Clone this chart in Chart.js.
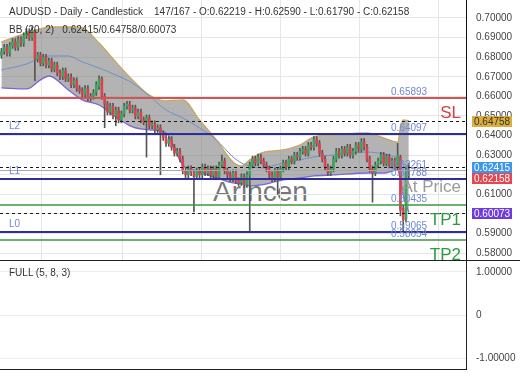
<!DOCTYPE html>
<html><head><meta charset="utf-8">
<script src="https://cdn.jsdelivr.net/npm/chart.js@4/dist/chart.umd.min.js"></script>
<style>
html,body{margin:0;padding:0;background:#fff;width:520px;height:390px;overflow:hidden;font-family:'Liberation Sans',Arial,sans-serif}
#wrap{position:relative;width:520px;height:390px}
canvas{position:absolute;left:0}
#main{top:0;z-index:1}
#sub{top:260px;z-index:1}
.txt{position:absolute;white-space:pre;color:#333;font-size:10px;line-height:12px;z-index:2}
#wm{position:absolute;left:213px;top:176px;font-size:28px;line-height:32px;color:rgba(95,95,95,0.85);z-index:0}
</style></head><body>
<div id="wrap">
<div id="wm">Arincen</div>
<canvas id="main" width="520" height="260"></canvas>
<canvas id="sub" width="520" height="130"></canvas>
<div class="txt" style="left:9px;top:6px">AUDUSD - Daily - Candlestick    147/167 - O:0.62219 - H:0.62590 - L:0.61790 - C:0.62158</div>
<div class="txt" style="left:9px;top:24px">BB (20, 2)   0.62415/0.64758/0.60073</div>
<div class="txt" style="left:9px;top:267px">FULL (5, 8, 3)</div>
</div>
<script>
// ---- data ----
const opens=[.6810,.6830,.6850,.6820,.6860,.6880,.6850,.6890,.6870,.6910,
.6930,.6900,.6930,.6790,.6810,.6770,.6800,.6760,.6780,.6740,
.6760,.6720,.6700,.6730,.6690,.6700,.6660,.6680,.6640,.6630,
.6610,.6640,.6590,.6600,.6620,.6650,.6690,.6600,.6560,.6520,
.6550,.6500,.6530,.6480,.6510,.6550,.6560,.6530,.6540,.6500,
.6520,.6480,.6470,.6490,.6450,.6460,.6430,.6440,.6410,.6390,
.6360,.6380,.6340,.6310,.6320,.6280,.6220,.6200,.6230,.6210,
.6190,.6220,.6200,.6240,.6210,.6230,.6200,.6230,.6190,.6250,
.6270,.6220,.6200,.6180,.6210,.6170,.6160,.6190,.6150,.6200,
.6250,.6280,.6260,.6290,.6270,.6250,.6230,.6200,.6180,.6220,
.6190,.6230,.6260,.6240,.6280,.6270,.6300,.6290,.6320,.6330,
.6310,.6350,.6340,.6380,.6360,.6310,.6280,.6240,.6210,.6230,
.6280,.6320,.6300,.6330,.6310,.6340,.6300,.6320,.6350,.6330,
.6370,.6340,.6280,.6230,.6210,.6250,.6270,.6300,.6260,.6290,
.6250,.6270,.6240,.6290,.6030,.5975,.62219];
const highs=[.6845,.6865,.6865,.6875,.6895,.6895,.6905,.6905,.6925,.6945,
.6945,.6955,.6940,.6825,.6825,.6815,.6815,.6795,.6795,.6775,
.6775,.6735,.6745,.6745,.6715,.6715,.6695,.6695,.6655,.6645,
.6655,.6655,.6615,.6635,.6675,.6705,.6700,.6615,.6575,.6565,
.6565,.6545,.6545,.6525,.6565,.6575,.6575,.6555,.6555,.6535,
.6535,.6495,.6505,.6505,.6475,.6475,.6455,.6455,.6425,.6405,
.6395,.6395,.6355,.6335,.6335,.6295,.6235,.6245,.6245,.6225,
.6235,.6235,.6255,.6255,.6245,.6245,.6245,.6245,.6265,.6300,
.6285,.6235,.6215,.6225,.6225,.6185,.6205,.6205,.6215,.6265,
.6295,.6295,.6305,.6305,.6285,.6265,.6245,.6215,.6235,.6235,
.6245,.6275,.6275,.6295,.6295,.6315,.6315,.6335,.6345,.6345,
.6365,.6365,.6395,.6395,.6375,.6325,.6295,.6255,.6245,.6295,
.6335,.6335,.6345,.6345,.6355,.6355,.6335,.6365,.6365,.6385,
.6385,.6355,.6295,.6245,.6265,.6285,.6315,.6315,.6305,.6305,
.6285,.6285,.6360,.6300,.6045,.6240,.62590];
const lows=[.6795,.6815,.6805,.6805,.6845,.6835,.6835,.6855,.6855,.6895,
.6885,.6885,.6680,.6775,.6755,.6755,.6745,.6745,.6725,.6725,
.6705,.6685,.6685,.6675,.6675,.6645,.6645,.6625,.6615,.6595,
.6595,.6575,.6575,.6585,.6605,.6635,.6585,.6440,.6505,.6505,
.6485,.6450,.6465,.6465,.6495,.6535,.6515,.6515,.6485,.6485,
.6465,.6455,.6290,.6435,.6435,.6415,.6415,.6200,.6375,.6345,
.6345,.6325,.6295,.6295,.6265,.6205,.6185,.6185,.6195,.6010,
.6175,.6185,.6185,.6195,.6195,.6185,.6185,.6175,.6175,.6235,
.6205,.6185,.6165,.6165,.6155,.6145,.6145,.6135,.6135,.5907,
.6235,.6245,.6245,.6255,.6235,.6215,.6185,.6165,.6165,.6100,
.6175,.6215,.6225,.6225,.6255,.6255,.6275,.6275,.6305,.6295,
.6295,.6325,.6325,.6345,.6295,.6265,.6225,.6195,.6195,.6215,
.6265,.6285,.6285,.6295,.6295,.6285,.6285,.6305,.6315,.6315,
.6325,.6265,.6215,.6060,.6195,.6235,.6255,.6245,.6245,.6235,
.6235,.6225,.6225,.5990,.5907,.5960,.61790];
const closes=[.6830,.6850,.6820,.6860,.6880,.6850,.6890,.6870,.6910,.6930,
.6900,.6935,.6790,.6810,.6770,.6800,.6760,.6780,.6740,.6760,
.6720,.6700,.6730,.6690,.6700,.6660,.6680,.6640,.6630,.6610,
.6640,.6590,.6600,.6620,.6660,.6690,.6600,.6560,.6520,.6550,
.6500,.6530,.6480,.6510,.6550,.6560,.6530,.6540,.6500,.6520,
.6480,.6470,.6490,.6450,.6460,.6430,.6440,.6410,.6390,.6360,
.6380,.6340,.6310,.6320,.6280,.6220,.6200,.6230,.6210,.6190,
.6220,.6200,.6240,.6210,.6230,.6200,.6230,.6190,.6250,.6270,
.6220,.6200,.6180,.6210,.6170,.6160,.6190,.6150,.6200,.6250,
.6280,.6260,.6290,.6270,.6250,.6230,.6200,.6180,.6220,.6190,
.6230,.6260,.6240,.6280,.6270,.6300,.6290,.6320,.6330,.6310,
.6350,.6340,.6380,.6360,.6310,.6280,.6240,.6210,.6230,.6280,
.6320,.6300,.6330,.6310,.6340,.6300,.6320,.6350,.6330,.6370,
.6340,.6280,.6230,.6210,.6250,.6270,.6300,.6260,.6290,.6250,
.6270,.6240,.6300,.6020,.5970,.6222,.62158];

const bbIdx=[0,9,14,17,24,29,35,41,47,53,59,65,71,77,83,86,89,93,101,107,112,119,131,137,142,143,144,146];
const bbUpper=[0.6878,0.6924,0.6944,0.6954,0.6954,0.6949,0.6872,0.6776,0.6684,0.6607,0.6577,0.6582,0.6480,0.6378,0.6265,0.6245,0.6276,0.6311,0.6327,0.6352,0.6393,0.6403,0.6413,0.6388,0.6367,0.6439,0.6480,0.64758];
const bbMid=[0.6735,0.6765,0.6796,0.6806,0.6806,0.6776,0.6745,0.6709,0.6668,0.6602,0.6531,0.6490,0.6439,0.6378,0.6291,0.6260,0.6245,0.6235,0.6260,0.6276,0.6291,0.6301,0.6316,0.6306,0.6286,0.6276,0.6260,0.62415];
const bbLower=[0.6643,0.6638,0.6684,0.6704,0.6633,0.6582,0.6556,0.6495,0.6444,0.6429,0.6413,0.6250,0.6214,0.6184,0.6158,0.6153,0.6143,0.6148,0.6174,0.6184,0.6194,0.6199,0.6209,0.6209,0.6224,0.6174,0.6097,0.60073];

const yTicks=[0.58,0.59,0.60,0.61,0.62,0.63,0.64,0.65,0.66,0.67,0.68,0.69,0.70];
const gridIdx=[28.9,57.6,85.9,114.2,142.5];
const slLevel=0.65893;
const lLevels=[0.64097,0.61788,0.59065];
const lNames=['L2','L1','L0'];
const tpLevels=[0.60435,0.58654];
const tpNames=['TP1','TP2'];
const bbLast=[0.64758,0.62415,0.60073];
const atPrice=0.62261;
const lastClose=0.62158;
const subTicks=[-1,0,1];

// ---- styles ----
const GREEN='#3aa55d', RED='#d9434f', WICK='#555';
const FONT="'Liberation Sans', Arial, sans-serif";
const LBL='#7088d0';

const bodyData=closes.map((c,i)=>({x:i,y:[opens[i],c]}));
const wickData=closes.map((c,i)=>({x:i,y:[lows[i],highs[i]]}));
const colors=closes.map((c,i)=>c>=opens[i]?GREEN:RED);
const band=a=>bbIdx.map((x,k)=>({x:x,y:a[k]}));

const noPad=s=>{s.width=54;s.paddingTop=0;s.paddingBottom=0;};

const levelPlugin={
  id:'levels',
  afterDatasetsDraw(chart){
    const ctx=chart.ctx, ca=chart.chartArea, y=chart.scales.y;
    const px=v=>y.getPixelForValue(v);
    function hline(v,color,w,dash){
      const p=Math.round(px(v))+(w%2===1?0.5:0);
      ctx.save();ctx.strokeStyle=color;ctx.lineWidth=w;ctx.setLineDash(dash||[]);
      ctx.beginPath();ctx.moveTo(ca.left,p);ctx.lineTo(ca.right,p);ctx.stroke();ctx.restore();
      return p;
    }
    function txt(s,x,yy,color,size,align){
      ctx.save();ctx.fillStyle=color;ctx.font=size+'px '+FONT;ctx.textAlign=align||'left';ctx.textBaseline='alphabetic';
      ctx.fillText(s,x,yy);ctx.restore();
    }
    const pa=hline(atPrice,'#a8a8a8',1);
    txt(atPrice.toFixed(5),391,pa-3,LBL,10);
    txt('At Price',461,pa+21,'#9a9a9a',17,'right');
    bbLast.forEach(v=>hline(v,'#1a1a1a',1,[3,3]));
    const ps=hline(slLevel,'#d05555',2);
    txt(slLevel.toFixed(5),391,ps-3,LBL,10);
    txt('SL',461,ps+20,'#d04040',17,'right');
    lLevels.forEach((v,k)=>{
      const p=hline(v,'#2d2d9c',2);
      txt(v.toFixed(5),391,p-3,LBL,10);
      txt(lNames[k],9,p-5,LBL,10);
    });
    tpLevels.forEach((v,k)=>{
      const p=hline(v,'#3c9a3c',1.5);
      txt(v.toFixed(5),391,p-3,LBL,10);
      txt(tpNames[k],461,p+20,'#2e9a3e',17,'right');
    });
  },
  afterDraw(chart){
    const ctx=chart.ctx, y=chart.scales.y;
    const badges=[
      {v:bbLast[0],bg:'#dcae3c',fg:'#333'},
      {v:bbLast[1],bg:'#3c96eb',fg:'#fff'},
      {v:lastClose,bg:'#e54650',fg:'#fff'},
      {v:bbLast[2],bg:'#6e3cdc',fg:'#fff'}
    ];
    let prev=-100;
    badges.forEach(b=>{
      let p=y.getPixelForValue(b.v)+1;
      if(p-prev<11) p=prev+11;
      prev=p;
      ctx.save();
      ctx.fillStyle=b.bg;ctx.fillRect(472,Math.round(p-5.5),40,11);
      ctx.fillStyle=b.fg;ctx.font='10px '+FONT;ctx.textBaseline='middle';ctx.textAlign='left';
      ctx.fillText(b.v.toFixed(5),474,p+0.5);
      ctx.restore();
    });
  }
};

new Chart(document.getElementById('main'),{
  type:'bar',
  data:{datasets:[
    {type:'bar',data:bodyData,backgroundColor:colors,borderWidth:0,barThickness:2,grouped:false,order:0},
    {type:'bar',data:wickData,backgroundColor:WICK,borderWidth:0,barThickness:1,grouped:false,order:1},
    {type:'line',data:band(bbUpper),borderColor:'#c9a75a',borderWidth:1.3,pointRadius:0,fill:false,cubicInterpolationMode:'monotone',order:3},
    {type:'line',data:band(bbMid),borderColor:'#6f8fc6',borderWidth:1,pointRadius:0,fill:false,cubicInterpolationMode:'monotone',order:2},
    {type:'line',data:band(bbLower),borderColor:'#7b66d9',borderWidth:1.3,pointRadius:0,fill:2,backgroundColor:'rgba(128,128,128,0.6)',cubicInterpolationMode:'monotone',order:4}
  ]},
  options:{
    responsive:false,animation:false,devicePixelRatio:1,
    layout:{padding:0,autoPadding:false},
    plugins:{legend:{display:false},tooltip:{enabled:false},title:{display:false}},
    scales:{
      x:{type:'linear',min:-0.5,max:166.5,offset:false,
        afterBuildTicks:s=>{s.ticks=gridIdx.map(v=>({value:v}));},
        afterFit:s=>{s.height=0;s.paddingLeft=0;s.paddingRight=0;},
        ticks:{display:false},grid:{color:'#e6e6e6',drawTicks:false},border:{display:false}},
      y:{type:'linear',position:'right',min:0.5765,max:0.70918,
        afterBuildTicks:s=>{s.ticks=yTicks.map(v=>({value:v}));},
        afterFit:noPad,
        ticks:{padding:10,color:'#444',font:{size:10,family:FONT},callback:v=>Number(v).toFixed(5)},
        grid:{color:'#e6e6e6',drawTicks:false},border:{display:true,color:'#111',width:1}}
    }
  },
  plugins:[levelPlugin]
});

const subBorder={
  id:'subBorder',
  afterDraw(chart){
    const ctx=chart.ctx, ca=chart.chartArea;
    ctx.save();ctx.strokeStyle='#222';ctx.lineWidth=1;
    ctx.beginPath();
    ctx.moveTo(0,0.5);ctx.lineTo(520,0.5);
    ctx.moveTo(466.5,0);ctx.lineTo(466.5,ca.bottom);
    ctx.moveTo(0,Math.round(ca.bottom)+0.5);ctx.lineTo(466.5,Math.round(ca.bottom)+0.5);
    ctx.stroke();ctx.restore();
  }
};

new Chart(document.getElementById('sub'),{
  type:'line',
  data:{datasets:[{data:[],borderColor:'#333',pointRadius:0}]},
  options:{
    responsive:false,animation:false,devicePixelRatio:1,
    layout:{padding:{top:1,bottom:21,left:0,right:0},autoPadding:false},
    plugins:{legend:{display:false},tooltip:{enabled:false},title:{display:false}},
    scales:{
      x:{type:'linear',display:false,min:0,max:1},
      y:{type:'linear',position:'right',min:-1.253,max:1.253,
        afterBuildTicks:s=>{s.ticks=subTicks.map(v=>({value:v}));},
        afterFit:noPad,
        ticks:{padding:10,color:'#444',font:{size:10,family:FONT},callback:v=>v===0?'0':Number(v).toFixed(5)},
        grid:{color:'#ececec',drawTicks:false},border:{display:true,color:'#222',width:1}}
    }
  },
  plugins:[subBorder]
});
</script>
</body></html>
